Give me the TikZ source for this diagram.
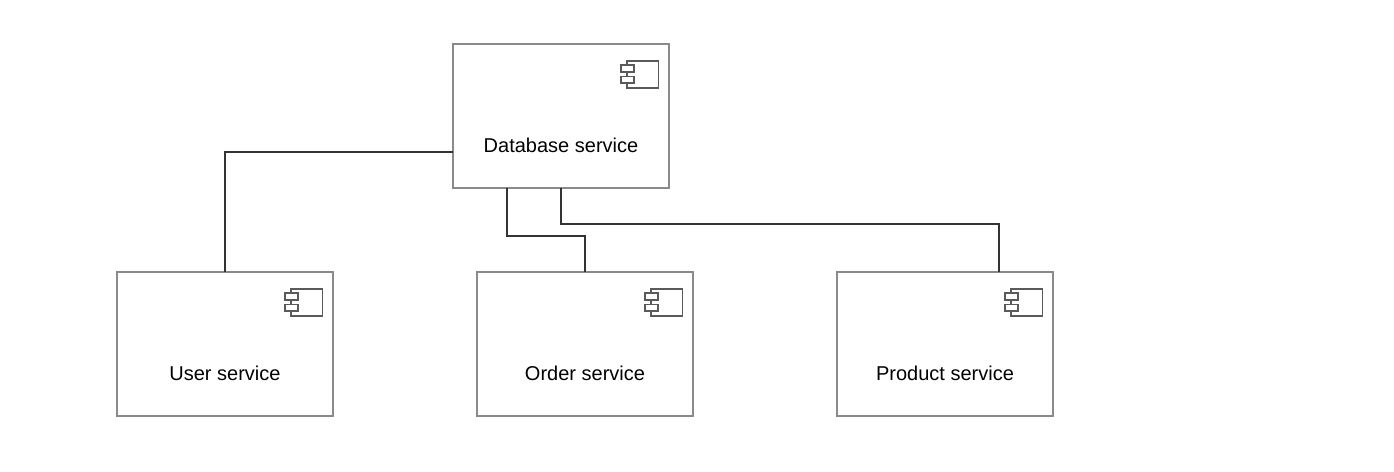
\documentclass[tikz,border=0pt]{standalone}
\usepackage{fontspec}
\setmainfont{Liberation Sans}
\usetikzlibrary{calc}
\definecolor{boxline}{HTML}{8A8A8A}
\definecolor{iconline}{HTML}{5A5A5A}
\definecolor{wire}{HTML}{333333}
\tikzset{
  x=1pt,y=-1pt,
  compbox/.style={draw=boxline,line width=1.15pt,fill=white,minimum width=216pt,minimum height=144pt,inner sep=0pt,outer sep=0pt},
  complabel/.style={font=\fontsize{20pt}{24pt}\selectfont,text=black,inner sep=0pt},
  wireline/.style={draw=wire,line width=1.4pt},
  iconpart/.style={draw=iconline,line width=1.7pt,fill=white}
}
\newcommand{\compicon}[1]{%
  \draw[iconpart] ($(#1.north east)+(-42,17)$) rectangle ($(#1.north east)+(-10.5,44)$);
  \draw[iconpart] ($(#1.north east)+(-48,21.3)$) rectangle ($(#1.north east)+(-35,28.3)$);
  \draw[iconpart] ($(#1.north east)+(-48,32.5)$) rectangle ($(#1.north east)+(-35,39)$);
}
\begin{document}
\begin{tikzpicture}
\useasboundingbox (0,0) rectangle (1394,471);
\fill[white] (0,0) rectangle (1394,471);
\node[compbox] (db) at (561,116) {};
\node[compbox] (user) at (225,344) {};
\node[compbox] (order) at (585,344) {};
\node[compbox] (product) at (945,344) {};
\node[complabel] (dblabel) at (561,145) {Database service};
\node[complabel] (userlabel) at (225,373) {User service};
\node[complabel] (orderlabel) at (585,373) {Order service};
\node[complabel] (productlabel) at (945,373) {Product service};
\compicon{db}
\compicon{user}
\compicon{order}
\compicon{product}
\coordinate (dbW) at ($(db.north west)+(0,108)$);
\coordinate (dbS1) at ($(db.south west)+(54,0)$);
\coordinate (prodN) at ($(product.north west)+(162,0)$);
\draw[wireline] (dbW) -| (user.north);
\draw[wireline] (dbS1) -- ++(0,48) -| (order.north);
\draw[wireline] (db.south) -- ++(0,36) -| (prodN);
\end{tikzpicture}
\end{document}
